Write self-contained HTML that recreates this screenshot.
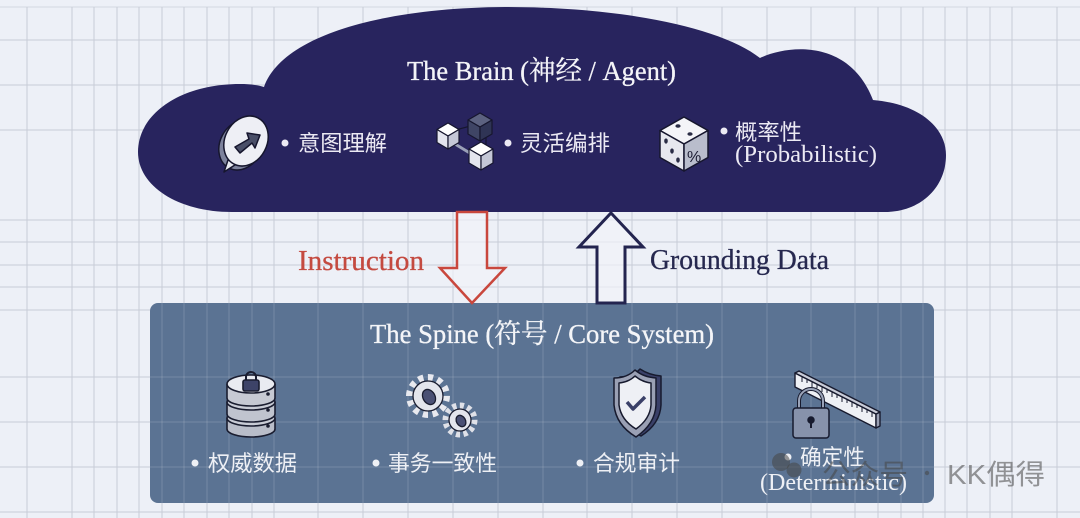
<!DOCTYPE html>
<html><head><meta charset="utf-8">
<style>
html,body{margin:0;padding:0;background:#edf0f7;}
svg{display:block;}
.serif{font-family:"Liberation Serif","Noto Serif CJK SC",serif;}
.sans{font-family:"Liberation Sans","Noto Sans CJK SC",sans-serif;}
</style></head>
<body>
<svg width="1080" height="518" viewBox="0 0 1080 518" xmlns="http://www.w3.org/2000/svg">
<defs>
<clipPath id="boxclip"><rect x="150" y="303" width="784" height="200" rx="8"/></clipPath>
</defs>
<rect x="0" y="0" width="1080" height="518" fill="#edf0f7"/>
<g stroke="#c8ccd7" stroke-width="1">
<line x1="0" y1="7" x2="1080" y2="7" stroke="#d3d7e0"/>
<line x1="0" y1="40" x2="1080" y2="40"/>
<line x1="0" y1="85" x2="1080" y2="85"/>
<line x1="0" y1="130" x2="1080" y2="130"/>
<line x1="0" y1="220" x2="1080" y2="220"/>
<line x1="0" y1="242" x2="1080" y2="242"/>
<line x1="0" y1="265" x2="1080" y2="265"/>
<line x1="0" y1="287" x2="1080" y2="287"/>
<line x1="0" y1="310" x2="1080" y2="310"/>
<line x1="0" y1="377" x2="1080" y2="377"/>
<line x1="0" y1="422" x2="1080" y2="422"/>
<line x1="0" y1="467" x2="1080" y2="467"/>
<line x1="0" y1="512" x2="1080" y2="512"/>
<line x1="27" y1="7" x2="27" y2="518"/>
<line x1="72" y1="7" x2="72" y2="518"/>
<line x1="94" y1="7" x2="94" y2="518"/>
<line x1="117" y1="7" x2="117" y2="518"/>
<line x1="139" y1="7" x2="139" y2="518"/>
<line x1="162" y1="7" x2="162" y2="518"/>
<line x1="184" y1="7" x2="184" y2="518"/>
<line x1="207" y1="7" x2="207" y2="518"/>
<line x1="229" y1="7" x2="229" y2="518"/>
<line x1="252" y1="7" x2="252" y2="518"/>
<line x1="274" y1="7" x2="274" y2="518"/>
<line x1="318" y1="7" x2="318" y2="518"/>
<line x1="363" y1="7" x2="363" y2="518"/>
<line x1="408" y1="7" x2="408" y2="518"/>
<line x1="453" y1="7" x2="453" y2="518"/>
<line x1="498" y1="7" x2="498" y2="518"/>
<line x1="543" y1="7" x2="543" y2="518"/>
<line x1="587" y1="7" x2="587" y2="518"/>
<line x1="632" y1="7" x2="632" y2="518"/>
<line x1="677" y1="7" x2="677" y2="518"/>
<line x1="722" y1="7" x2="722" y2="518"/>
<line x1="767" y1="7" x2="767" y2="518"/>
<line x1="811" y1="7" x2="811" y2="518"/>
<line x1="855" y1="7" x2="855" y2="518"/>
<line x1="878" y1="7" x2="878" y2="518"/>
<line x1="901" y1="7" x2="901" y2="518"/>
<line x1="923" y1="7" x2="923" y2="518"/>
<line x1="945" y1="7" x2="945" y2="518"/>
<line x1="967" y1="7" x2="967" y2="518"/>
<line x1="990" y1="7" x2="990" y2="518"/>
<line x1="1012" y1="7" x2="1012" y2="518"/>
<line x1="1057" y1="7" x2="1057" y2="518"/>
</g>

<rect x="150" y="303" width="784" height="200" rx="8" fill="#5b7393"/>
<g clip-path="url(#boxclip)" stroke="#ffffff" stroke-opacity="0.16" stroke-width="1">
<line x1="150" y1="377" x2="934" y2="377"/>
<line x1="150" y1="422" x2="934" y2="422"/>
<line x1="150" y1="467" x2="934" y2="467"/>
<line x1="162" y1="303" x2="162" y2="503"/>
<line x1="184" y1="303" x2="184" y2="503"/>
<line x1="207" y1="303" x2="207" y2="503"/>
<line x1="229" y1="303" x2="229" y2="503"/>
<line x1="252" y1="303" x2="252" y2="503"/>
<line x1="274" y1="303" x2="274" y2="503"/>
<line x1="318" y1="303" x2="318" y2="503"/>
<line x1="363" y1="303" x2="363" y2="503"/>
<line x1="408" y1="303" x2="408" y2="503"/>
<line x1="453" y1="303" x2="453" y2="503"/>
<line x1="498" y1="303" x2="498" y2="503"/>
<line x1="543" y1="303" x2="543" y2="503"/>
<line x1="587" y1="303" x2="587" y2="503"/>
<line x1="632" y1="303" x2="632" y2="503"/>
<line x1="677" y1="303" x2="677" y2="503"/>
<line x1="722" y1="303" x2="722" y2="503"/>
<line x1="767" y1="303" x2="767" y2="503"/>
<line x1="811" y1="303" x2="811" y2="503"/>
<line x1="855" y1="303" x2="855" y2="503"/>
<line x1="878" y1="303" x2="878" y2="503"/>
<line x1="901" y1="303" x2="901" y2="503"/>
<line x1="923" y1="303" x2="923" y2="503"/>
</g>

<path d="M 232 212 C 178 212, 138 186, 138 152 C 138 114, 180 84, 240 84 C 250 84, 258 85, 264 87 C 282 36, 380 8, 505 7 C 625 7, 722 28, 760 58 C 790 44, 850 40, 873 100 C 920 104, 946 128, 946 155 C 946 188, 920 212, 885 212 Z" fill="#28245e"/>

<polygon points="457,212 487,212 487,268 505,268 472,303 440,268 457,268" fill="#f1f2f8" fill-opacity="0.7" stroke="#c9473d" stroke-width="2.5"/>
<polygon points="611,213 643,247 625,247 625,303 597,303 597,247 579,247" fill="#f1f2f8" fill-opacity="0.7" stroke="#23244f" stroke-width="3"/>

<text class="serif" x="407" y="80" font-size="27" fill="#f4f4f8" stroke="#f4f4f8" stroke-width="0.3" textLength="269" lengthAdjust="spacingAndGlyphs">The Brain (神经 / Agent)</text>
<text class="serif" x="370" y="343" font-size="27" fill="#f4f5f8" stroke="#f4f5f8" stroke-width="0.3" textLength="344" lengthAdjust="spacingAndGlyphs">The Spine (符号 / Core System)</text>
<text class="serif" x="298" y="270" font-size="28" fill="#c44a40" stroke="#c44a40" stroke-width="0.3" textLength="126" lengthAdjust="spacingAndGlyphs">Instruction</text>
<text class="serif" x="650" y="269" font-size="28" fill="#26284f" stroke="#26284f" stroke-width="0.3" textLength="179" lengthAdjust="spacingAndGlyphs">Grounding Data</text>

<g stroke="#16162e" stroke-width="1.5" stroke-linejoin="round">
<ellipse cx="241" cy="145" rx="21" ry="26" transform="rotate(28 241 145)" fill="#7d829c"/>
<polygon points="228,160 224,172 238,163" fill="#e9eaf1"/>
<ellipse cx="246" cy="141" rx="21" ry="26" transform="rotate(28 246 141)" fill="#eeeff5"/>
<polygon points="235,147 249,139 247,133 260,135 255,148 252,143 240,153" fill="#4a4f68"/>
</g>
<g stroke="#16162e" stroke-width="1.2" stroke-linejoin="round">
<line x1="448" y1="132" x2="478" y2="124"/>
<line x1="455" y1="144" x2="478" y2="158" stroke="#9aa0b8" stroke-width="3"/>
<line x1="486" y1="135" x2="486" y2="152"/>
<polygon points="480,113 492,120 480,127 468,120" fill="#5c6280"/>
<polygon points="468,120 480,127 480,141 468,134" fill="#3f4565"/>
<polygon points="480,127 492,120 492,134 480,141" fill="#2f3455"/>
<polygon points="448,123 459,129.5 448,136 437,129.5" fill="#ffffff"/>
<polygon points="437,129.5 448,136 448,149 437,142.5" fill="#e4e5ee"/>
<polygon points="448,136 459,129.5 459,142.5 448,149" fill="#c4c7d6"/>
<polygon points="481,142 493,149 481,156 469,149" fill="#ffffff"/>
<polygon points="469,149 481,156 481,170 469,163" fill="#e4e5ee"/>
<polygon points="481,156 493,149 493,163 481,170" fill="#c4c7d6"/>
</g>
<g stroke="#16162e" stroke-width="1.5" stroke-linejoin="round">
<polygon points="684,117 708,130.5 684,144 660,130.5" fill="#f4f4f8"/>
<polygon points="660,130.5 684,144 684,171 660,157.5" fill="#e6e7ee"/>
<polygon points="684,144 708,130.5 708,157.5 684,171" fill="#b9bdcc"/>
</g>
<g fill="#2a2c45">
<ellipse cx="678" cy="126" rx="2.6" ry="1.8"/>
<ellipse cx="690" cy="134" rx="2.6" ry="1.8"/>
<ellipse cx="666" cy="141" rx="1.8" ry="2.6"/>
<ellipse cx="672" cy="151" rx="1.8" ry="2.6"/>
<ellipse cx="678" cy="160" rx="1.8" ry="2.6"/>
</g>
<text class="sans" x="687" y="162" font-size="16" fill="#1c1c33">%</text>

<g fill="#eceaf4">
<circle cx="285" cy="143" r="3.5"/>
<circle cx="508" cy="143" r="3.5"/>
<circle cx="724" cy="131" r="3.5"/>
</g>
<text class="sans" x="298" y="151" font-size="22" fill="#eceaf4" textLength="89" lengthAdjust="spacingAndGlyphs">意图理解</text>
<text class="sans" x="520" y="151" font-size="22" fill="#eceaf4" textLength="90" lengthAdjust="spacingAndGlyphs">灵活编排</text>
<text class="sans" x="735" y="140" font-size="22" fill="#eceaf4" textLength="67" lengthAdjust="spacingAndGlyphs">概率性</text>
<text class="serif" x="735" y="162" font-size="24" fill="#eceaf4" textLength="142" lengthAdjust="spacingAndGlyphs">(Probabilistic)</text>

<g stroke="#1a1d30" stroke-width="1.6">
<path d="M227 418 L227 429 A24 8 0 0 0 275 429 L275 418" fill="#b9bdc9"/>
<ellipse cx="251" cy="418" rx="24" ry="8" fill="#c9ccd6"/>
<path d="M227 402 L227 414 A24 8 0 0 0 275 414 L275 402" fill="#c0c4cf"/>
<ellipse cx="251" cy="402" rx="24" ry="8" fill="#c9ccd6"/>
<path d="M227 384 L227 398 A24 8 0 0 0 275 398 L275 384" fill="#c6c9d3"/>
<ellipse cx="251" cy="384" rx="24" ry="9" fill="#e9ebf1"/>
<path d="M246 382 L246 377 A5 5 0 0 1 256 377 L256 382" fill="none" stroke-width="2"/>
<rect x="243" y="380" width="16" height="11" rx="2" fill="#3d4368"/>
</g>
<g fill="#1a1d30"><circle cx="268" cy="394" r="1.8"/><circle cx="268" cy="410" r="1.8"/><circle cx="268" cy="426" r="1.8"/></g>
<g stroke="#1a1d30" stroke-width="1.3">
<circle cx="428" cy="396" r="18" fill="none" stroke="#e8e9ef" stroke-width="8" stroke-dasharray="5 4.4"/>
<circle cx="428" cy="396" r="15" fill="#e3e5ec"/>
<ellipse cx="429" cy="397" rx="6" ry="8" fill="#4a5074" transform="rotate(-30 429 397)"/>
<circle cx="460" cy="420" r="14" fill="none" stroke="#dfe1e8" stroke-width="7" stroke-dasharray="4 3.3"/>
<circle cx="460" cy="420" r="11" fill="#e3e5ec"/>
<ellipse cx="461" cy="421" rx="4.5" ry="6" fill="#4a5074" transform="rotate(-30 461 421)"/>
</g>
<g stroke="#171a2e" stroke-width="1.5" stroke-linejoin="round">
<path d="M620 377 Q633 377 640 369 Q649 375 661 376 L661 405 Q660 424 641 436 Q622 426 619 408 Z" fill="#3a4068"/>
<path d="M614 378 Q627 378 635 370 Q643 377 656 378 L656 405 Q655 424 636 437 Q616 425 614 405 Z" fill="#9aa0b4"/>
<path d="M619 383 Q629 382 635 376 Q642 382 651 383 L651 405 Q650 419 636 429 Q621 420 619 405 Z" fill="#eef0f5"/>
<polyline points="627,402 633,409 645,397" fill="none" stroke="#3a4068" stroke-width="3.5"/>
</g>
<g stroke="#171a2e" stroke-width="1.4" stroke-linejoin="round">
<polygon points="795,373 876,414 876,428 795,387" fill="#eef0f5"/>
<polygon points="876,414 880,412 880,426 876,428" fill="#9aa0b4"/>
<polygon points="795,373 799,371 880,412 876,414" fill="#c9ccd8"/>
</g>
<g stroke="#171a2e" stroke-width="1">
<line x1="802" y1="377" x2="802" y2="382"/><line x1="807" y1="379" x2="807" y2="383"/>
<line x1="812" y1="382" x2="812" y2="387"/><line x1="817" y1="384" x2="817" y2="388"/>
<line x1="822" y1="387" x2="822" y2="392"/><line x1="827" y1="389" x2="827" y2="393"/>
<line x1="832" y1="392" x2="832" y2="397"/><line x1="837" y1="394" x2="837" y2="398"/>
<line x1="842" y1="397" x2="842" y2="402"/><line x1="847" y1="399" x2="847" y2="403"/>
<line x1="852" y1="402" x2="852" y2="407"/><line x1="857" y1="404" x2="857" y2="408"/>
<line x1="862" y1="407" x2="862" y2="412"/><line x1="867" y1="409" x2="867" y2="413"/>
<line x1="872" y1="412" x2="872" y2="417"/>
</g>
<g stroke="#171a2e" stroke-width="1.5">
<path d="M799 410 L799 401 A12 12 0 0 1 823 401 L823 410" fill="none" stroke-width="4"/>
<path d="M799 410 L799 401 A12 12 0 0 1 823 401 L823 410" fill="none" stroke="#9aa3b8" stroke-width="2"/>
<rect x="793" y="408" width="36" height="30" rx="3" fill="#8792ab"/>
<circle cx="811" cy="420" r="3" fill="#171a2e"/>
<line x1="811" y1="421" x2="811" y2="428" stroke-width="2"/>
</g>

<g fill="#eef0f5">
<circle cx="195" cy="463" r="3.5"/>
<circle cx="376" cy="463" r="3.5"/>
<circle cx="580" cy="463" r="3.5"/>
<circle cx="788" cy="457" r="3.5"/>
</g>
<text class="sans" x="208" y="471" font-size="22" fill="#eef0f5" textLength="89" lengthAdjust="spacingAndGlyphs">权威数据</text>
<text class="sans" x="388" y="471" font-size="22" fill="#eef0f5" textLength="109" lengthAdjust="spacingAndGlyphs">事务一致性</text>
<text class="sans" x="593" y="471" font-size="22" fill="#eef0f5" textLength="87" lengthAdjust="spacingAndGlyphs">合规审计</text>
<text class="sans" x="800" y="465" font-size="22" fill="#eef0f5" textLength="65" lengthAdjust="spacingAndGlyphs">确定性</text>
<text class="serif" x="760" y="490" font-size="24" fill="#eef0f5" textLength="147" lengthAdjust="spacingAndGlyphs">(Deterministic)</text>

<g fill="#464646" fill-opacity="0.55">
<circle cx="781" cy="462" r="9"/>
<circle cx="794" cy="470" r="7.5"/>
</g>
<text class="sans" x="822" y="484" font-size="28" fill="#464646" fill-opacity="0.55" textLength="86" lengthAdjust="spacingAndGlyphs">公众号</text>
<circle cx="927" cy="473" r="2.2" fill="#464646" fill-opacity="0.55"/>
<text class="sans" x="947" y="484" font-size="28" fill="#464646" fill-opacity="0.55" textLength="98" lengthAdjust="spacingAndGlyphs">KK偶得</text>
</svg>
</body></html>
